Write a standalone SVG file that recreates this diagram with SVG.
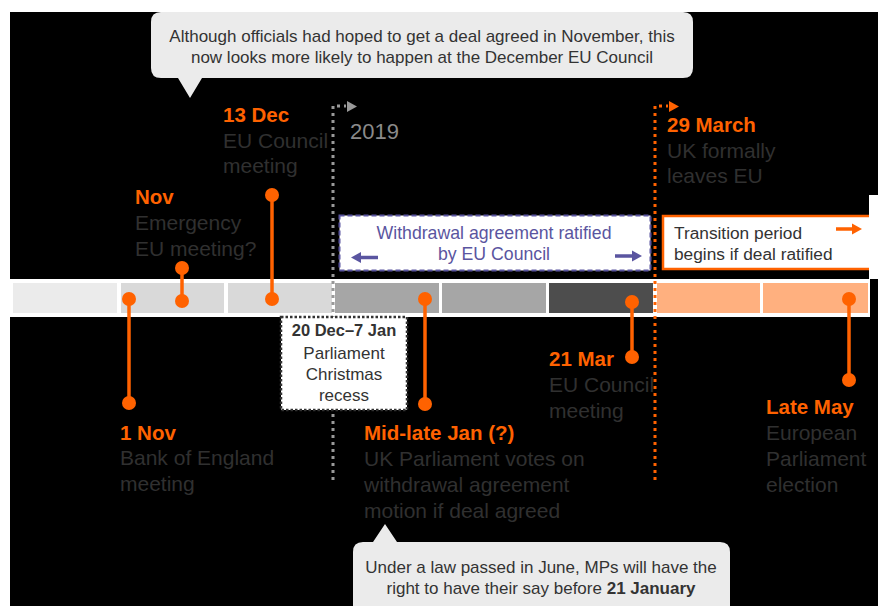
<svg xmlns="http://www.w3.org/2000/svg" width="878" height="606" viewBox="0 0 878 606">
<defs>
<style>
text{font-family:"Liberation Sans",Arial,sans-serif}
.lbl{fill:#ff6200;font-size:20.5px;font-weight:bold}
.desc{fill:#303030;font-size:21px}
.stem{stroke:#ff6200;stroke-width:3.5;fill:none}
.dot{fill:#ff6200}
.call{fill:#ebebeb}
.ctext{fill:#333;font-size:17px;text-anchor:middle}
.seg{stroke:none}
</style>
</defs>
<rect x="0" y="0" width="878" height="606" fill="#fff"/>
<rect x="10" y="12" width="868" height="594" fill="#000"/>

<g id="timeline">
<rect x="10" y="279" width="860" height="38" fill="#fff"/>
<rect class="seg" x="13" y="283" width="104" height="30" fill="#ebebeb"/>
<rect class="seg" x="121" y="283" width="103" height="30" fill="#d9d9d9"/>
<rect class="seg" x="228" y="283" width="104" height="30" fill="#d9d9d9"/>
<rect class="seg" x="335" y="283" width="104" height="30" fill="#a6a6a6"/>
<rect class="seg" x="442" y="283" width="104" height="30" fill="#a6a6a6"/>
<rect class="seg" x="549" y="283" width="104" height="30" fill="#4d4d4d"/>
<rect class="seg" x="657" y="283" width="103" height="30" fill="#ffb07f"/>
<rect class="seg" x="763" y="283" width="105" height="30" fill="#ffb07f"/>
</g>

<g id="connectors">
<path d="M333 480 V106 H346" stroke="#999" stroke-width="3" stroke-dasharray="3,4" fill="none"/>
<polygon points="347,101 357,106.5 347,112" fill="#999"/>
<path d="M655 480 V106 H668" stroke="#ff6200" stroke-width="3" stroke-dasharray="3,4" fill="none"/>
<polygon points="669,101 679,106.5 669,112" fill="#ff6200"/>
</g>

<g id="year2019"><text x="350" y="139" fill="#8a8a8a" font-size="22">2019</text></g>

<g id="callout-top">
<path class="call" d="M161 12 H683 Q693 12 693 22 V68 Q693 78 683 78 H202 L190 98 L178 78 H161 Q151 78 151 68 V22 Q151 12 161 12 Z"/>
<text class="ctext" x="422" y="42">Although officials had hoped to get a deal agreed in November, this</text>
<text class="ctext" x="422" y="63">now looks more likely to happen at the December EU Council</text>
</g>

<g id="withdrawal">
<rect x="339.5" y="215.5" width="311" height="55" fill="#fff" stroke="#5a55a0" stroke-width="2" stroke-dasharray="5,3"/>
<text x="494" y="239" fill="#5a55a0" font-size="17.7" text-anchor="middle">Withdrawal agreement ratified</text>
<text x="494" y="260" fill="#5a55a0" font-size="17.7" text-anchor="middle">by EU Council</text>
<path d="M378 257.5 H360" stroke="#5a55a0" stroke-width="3.5"/>
<polygon points="351,257.5 361,252 361,263" fill="#5a55a0"/>
<path d="M615 256 H633" stroke="#5a55a0" stroke-width="3.5"/>
<polygon points="642,256 632,250.5 632,261.5" fill="#5a55a0"/>
</g>

<g id="transition">
<rect x="663" y="216" width="215" height="53" fill="#fff" stroke="#ff6200" stroke-width="2.5"/>
<rect x="869" y="195" width="9" height="84" fill="#fff"/>
<text x="674" y="239" fill="#333" font-size="17.3">Transition period</text>
<text x="674" y="260" fill="#333" font-size="17.3">begins if deal ratified</text>
<path d="M836 229 H853" stroke="#ff6200" stroke-width="3.5"/>
<polygon points="862,229 852,223.5 852,234.5" fill="#ff6200"/>
</g>

<g id="recess">
<rect x="281" y="317" width="126" height="93" fill="#fff" stroke="#333" stroke-width="2.5" stroke-dasharray="2.5,2"/>
<text x="344" y="336" fill="#333" font-size="16.5" font-weight="bold" text-anchor="middle">20 Dec–7 Jan</text>
<text x="344" y="359" fill="#333" font-size="17" text-anchor="middle">Parliament</text>
<text x="344" y="380" fill="#333" font-size="17" text-anchor="middle">Christmas</text>
<text x="344" y="401" fill="#333" font-size="17" text-anchor="middle">recess</text>
</g>

<g id="nov1">
<line class="stem" x1="129" y1="299" x2="129" y2="403"/>
<circle class="dot" cx="129" cy="299" r="7"/><circle class="dot" cx="129" cy="403" r="7"/>
<text class="lbl" x="120" y="440">1 Nov</text>
<text class="desc" x="120" y="465">Bank of England</text>
<text class="desc" x="120" y="491">meeting</text>
</g>

<g id="nov">
<line class="stem" x1="182" y1="268" x2="182" y2="301"/>
<circle class="dot" cx="182" cy="268" r="7"/><circle class="dot" cx="182" cy="301" r="7"/>
<text class="lbl" x="135" y="204">Nov</text>
<text class="desc" x="135" y="230">Emergency</text>
<text class="desc" x="135" y="256">EU meeting?</text>
</g>

<g id="dec13">
<line class="stem" x1="272" y1="195" x2="272" y2="299"/>
<circle class="dot" cx="272" cy="195" r="7"/><circle class="dot" cx="272" cy="299" r="7"/>
<text class="lbl" x="223" y="122">13 Dec</text>
<text class="desc" x="223" y="148">EU Council</text>
<text class="desc" x="223" y="173">meeting</text>
</g>

<g id="jan">
<line class="stem" x1="425" y1="299" x2="425" y2="404"/>
<circle class="dot" cx="425" cy="299" r="7"/><circle class="dot" cx="425" cy="404" r="7"/>
<text class="lbl" x="364" y="440">Mid-late Jan (?)</text>
<text class="desc" x="364" y="466">UK Parliament votes on</text>
<text class="desc" x="364" y="492">withdrawal agreement</text>
<text class="desc" x="364" y="518">motion if deal agreed</text>
</g>

<g id="mar21">
<line class="stem" x1="632" y1="302" x2="632" y2="357"/>
<circle class="dot" cx="632" cy="302" r="7"/><circle class="dot" cx="632" cy="357" r="7"/>
<text class="lbl" x="549" y="366">21 Mar</text>
<text class="desc" x="549" y="392">EU Council</text>
<text class="desc" x="549" y="418">meeting</text>
</g>

<g id="mar29">
<text class="lbl" x="667" y="132">29 March</text>
<text class="desc" x="667" y="158">UK formally</text>
<text class="desc" x="667" y="183">leaves EU</text>
</g>

<g id="may">
<line class="stem" x1="849" y1="299" x2="849" y2="380"/>
<circle class="dot" cx="849" cy="299" r="7"/><circle class="dot" cx="849" cy="380" r="7"/>
<text class="lbl" x="766" y="414">Late May</text>
<text class="desc" x="766" y="440">European</text>
<text class="desc" x="766" y="466">Parliament</text>
<text class="desc" x="766" y="492">election</text>
</g>

<g id="callout-bottom">
<path class="call" d="M363 542 H373 L385 524 L397 542 H720 Q730 542 730 552 V612 H353 V552 Q353 542 363 542 Z"/>
<text class="ctext" x="541" y="573">Under a law passed in June, MPs will have the</text>
<text class="ctext" x="541" y="594">right to have their say before <tspan font-weight="bold">21 January</tspan></text>
</g>
</svg>
